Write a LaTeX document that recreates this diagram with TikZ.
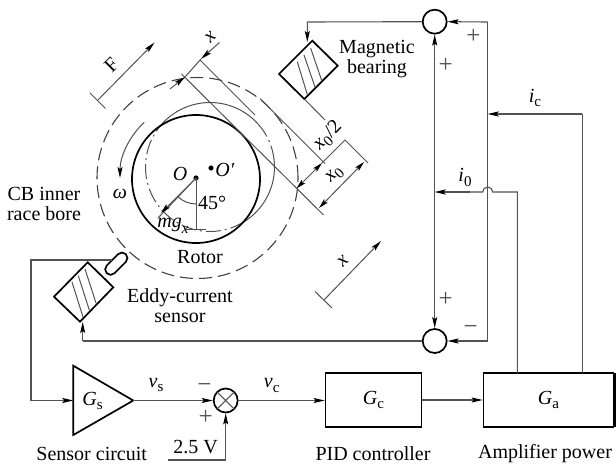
\documentclass[tikz,border=0pt]{standalone}
\usepackage{fontspec}
\setmainfont{Liberation Serif}
\usetikzlibrary{arrows.meta,shapes.misc,calc}
\newcommand{\isub}[2]{\textit{#1}\raisebox{-.22em}{\fontsize{15}{17}\selectfont #2}}
\tikzset{
  every node/.style={font=\fontsize{20}{20}\selectfont,inner sep=0pt},
  thin line/.style={draw=black!68,line width=1pt},
  wire/.style={draw=black!68,line width=1.1pt},
  tip/.style={-{Stealth[length=11pt,width=5pt,inset=2pt,black]}},
  twotip/.style={{Stealth[length=10pt,width=5pt,inset=2pt,black]}-{Stealth[length=10pt,width=5pt,inset=2pt,black]}},
  heavy/.style={draw=black,line width=1.7pt},
  junction/.style={circle,heavy,fill=white,minimum size=24pt},
  block/.style={rectangle,heavy,minimum height=54pt},
  slanted/.style={rotate=45},
  sign/.style={font=\fontsize{25}{25}\selectfont,text=black!70},
}
\begin{document}
\begin{tikzpicture}[x=1pt,y=-1pt]
\useasboundingbox (0,0) rectangle (616,465);
% circles
\coordinate (O) at (196,178);
\coordinate (Op) at (210,167);
\draw[draw=black!75,line width=1.1pt,dash pattern=on 13pt off 6pt] (197.5,178) circle [radius=100.5pt];
\draw[thin line,dash pattern=on 15pt off 4pt on 2pt off 4pt] ($(Op)+(133:64.5pt)$) arc (133:299:64.5pt);
\draw[thin line] ($(Op)+(-61:64.5pt)$) arc (-61:6:64.5pt);
\draw[thin line,dash pattern=on 15pt off 4pt on 2pt off 4pt] ($(Op)+(6:64.5pt)$) arc (6:42:64.5pt);
\draw[thin line] ($(Op)+(42:64.5pt)$) arc (42:133:64.5pt);
\draw[heavy] (196,179) circle [radius=64pt];
\fill (O) circle [radius=2.6pt];
\fill (211,168) circle [radius=2.6pt];
% rotor details
\coordinate (mgend) at (158,218);
\draw[thin line] (O) -- (mgend);
\draw[thin line,-{Stealth[length=10pt,width=5pt,inset=2pt,black]}] (O) -- (161,213);
\coordinate (Odown) at (196,230);
\draw[thin line] (O) -- (Odown);
\draw[thin line] ($(O)+(225:26pt)$) arc (225:270:26pt);
\draw[thin line] (186,230) -- (206,230);
\draw[thin line,tip] ($(O)+(133:76pt)$) arc (133:180:76pt);
% force arrow F
\coordinate (Fa) at (98,100);
\coordinate (Fb) at (154.5,42.5);
\draw[thin line] (90,93) -- (105.5,108.5);
\draw[thin line,tip] (Fa) -- (Fb);
% tangent lines
\coordinate (A1) at (181.5,74);
\coordinate (A2) at (323.5,215);
\coordinate (B1) at (200,60);
\coordinate (B2) at (255,115);
\coordinate (C1) at (260,98.5);
\coordinate (C2) at (325,163.5);
\draw[thin line] (A1) -- (A2);
\draw[thin line] (B1) -- (B2);
\draw[thin line] (C1) -- (C2);
% x dimension at top
\coordinate (xa) at (170,89);
\coordinate (xb) at (185,77);
\coordinate (xc) at (201,59);
\coordinate (xd) at (219.5,42.5);
\draw[thin line,tip] (xa) -- (xb);
\draw[thin line] (xb) -- (xc);
\draw[thin line,tip] (xd) -- (xc);
% dimensions x0
\coordinate (d1) at (296.5,188.5);
\coordinate (d2) at (322,163);
\coordinate (d3) at (345,140);
\coordinate (d4) at (368,163);
\coordinate (d5) at (364,162);
\coordinate (d6) at (319,208);
\draw[thin line,twotip] (d1) -- (d2);
\draw[thin line] (d2) -- (d3) -- (d4);
\draw[thin line,twotip] (d6) -- (d5);
% lower x arrow
\draw[thin line] (315,291.5) -- (332,308);
\draw[thin line,tip] (324,300) -- (381,241);
% magnetic bearing
\coordinate (M1) at (312.3,40.7);
\coordinate (M2) at (337.7,65.7);
\coordinate (M3) at (304.3,99);
\coordinate (M4) at (279,74);
\draw[heavy,line join=miter] (M1) -- (M2) -- (M3) -- (M4) -- cycle;
\draw[thin line] (297.3,61.7) -- (307.3,94.5) (304,55) -- (315,87) (310.7,48.3) -- (321.7,80.5);
\coordinate (Maxis) at (325,120);
\draw[thin line] (M3) -- (Maxis);
% eddy current sensor
\coordinate (E1) at (87.7,262.3);
\coordinate (E2) at (113.3,287.3);
\coordinate (E3) at (80,321.7);
\coordinate (E4) at (54,296.7);
\draw[heavy,line join=miter] (E1) -- (E2) -- (E3) -- (E4) -- cycle;
\draw[thin line] (72,282) -- (83,317) (78.3,275.7) -- (89.3,310) (85,269) -- (96,303);
\node[rounded rectangle,heavy,minimum width=27pt,minimum height=11pt,rotate=45,fill=white] (pill) at (116.3,263.7) {};
% blocks
\node[block,minimum width=96pt] (Gc) at (373.5,400) {\isub{G}{c}};
\node[block,minimum width=130pt] (Ga) at (548.5,400) {\isub{G}{a}};
\draw[draw=black,line width=3pt] (614.5,373) -- (614.5,427);
\coordinate (T1) at (73.3,365.7);
\coordinate (T2) at (133.3,400.5);
\coordinate (T3) at (73.3,435);
\draw[heavy,line join=miter] (T1) -- (T2) -- (T3) -- cycle;
\node (Gs) at (92.5,401) {\isub{G}{s}};
% junctions
\node[junction] (jt) at (434.7,21.7) {};
\node[junction] (jb) at (434.7,341) {};
\node[junction] (sj) at (225.7,400.5) {};
\draw[thin line] (sj.45) -- (sj.225) (sj.135) -- (sj.315);
% wiring
\coordinate (m) at (307.3,22);
\draw[wire,tip] (jt.west) -- (m) -- (307.3,42);
\draw[wire,tip] (82.7,341) -- (82.7,322);
\draw[wire] (jb.west) -- (82.7,341);
\draw[wire,tip] (434.7,191.7) -- (jt.south);
\draw[wire,tip] (434.7,191.7) -- (jb.north);
\coordinate (r1) at (487.7,22);
\coordinate (r2) at (487.7,341);
\draw[wire] (r1) -- (r2);
\draw[wire,tip] (r1) -- (jt.east);
\draw[wire,tip] (r2) -- (jb.east);
\coordinate (ic1) at (582.3,114);
\coordinate (ic2) at (487.7,114);
\draw[wire] (582.3,373) -- (ic1);
\draw[wire,tip] (ic1) -- (ic2);
\coordinate (i01) at (517.3,192);
\draw[wire] (517.3,373) -- (i01) -- (492.7,192) arc (0:180:5pt) -- (470,192);
\draw[wire,tip] (470,192) -- (434.7,192);
% signal path
\coordinate (s1) at (112,260);
\coordinate (s2) at (31,260);
\coordinate (s3) at (31,400.5);
\draw[wire] (s1) -- (s2) -- (s3);
\draw[wire,tip] (s3) -- (T1 |- s3);
\draw[wire,tip] (T2) -- (sj.west);
\draw[wire,tip] (sj.east) -- (Gc.west |- sj.east);
\draw[wire,tip] (Gc.east) -- (Ga.west);
\coordinate (v1) at (168,460);
\coordinate (v2) at (225.7,460);
\draw[wire] (v1) -- (v2);
\draw[wire,tip] (v2) -- (sj.south);
% labels
\node[slanted] (lF) at (111.5,65) {F};
\node[slanted] (lx1) at (210.5,37) {\textit{x}};
\node[slanted] (lx2) at (343,261) {\textit{x}};
\node[slanted] (lx3) at (335,175) {\textit{x}\raisebox{-.2em}{\fontsize{15}{17}\selectfont 0}};
\node[slanted] (lx4) at (328,136) {\textit{x}\raisebox{-.2em}{\fontsize{15}{17}\selectfont 0}/2};
\node (lO) at (180,174) {\textit{O}};
\node (lOp) at (225,170) {\textit{O′}};
\node (l45) at (212,203) {45°};
\node (lmg) at (173,226) {\textit{mg}\raisebox{-.3em}{\fontsize{15}{17}\selectfont\textit{x}}};
\node (lw) at (120,194) {\textit{ω}};
\node (lrotor) at (200,257) {Rotor};
\node[align=center] (lcb) at (44,204) {CB inner\\race bore};
\node[align=center] (lmb) at (377,59) {Magnetic\\bearing};
\node[align=center] (led) at (180,306) {Eddy-current\\sensor};
\node (ls) at (91.7,454) {Sensor circuit};
\node (lpid) at (373,454) {PID controller};
\node (lamp) at (545,454) {Amplifier power};
\node (lv) at (195.7,447) {2.5 V};
\node (lvs) at (156,385) {\isub{v}{s}};
\node (lvc) at (271.7,385.5) {\isub{v}{c}};
\node[sign] (lm1) at (204.5,388) {\textminus};
\node[sign] (lp1) at (205.7,417) {+};
\node[sign] (lp2) at (473.3,36.7) {+};
\node[sign] (lp3) at (445.7,65) {+};
\node[sign] (lp4) at (445.7,299) {+};
\node[sign] (lm2) at (470.7,330) {\textminus};
\node (lic) at (535,98) {\isub{i}{c}};
\node (li0) at (465,177.5) {\isub{i}{0}};
\end{tikzpicture}
\end{document}
